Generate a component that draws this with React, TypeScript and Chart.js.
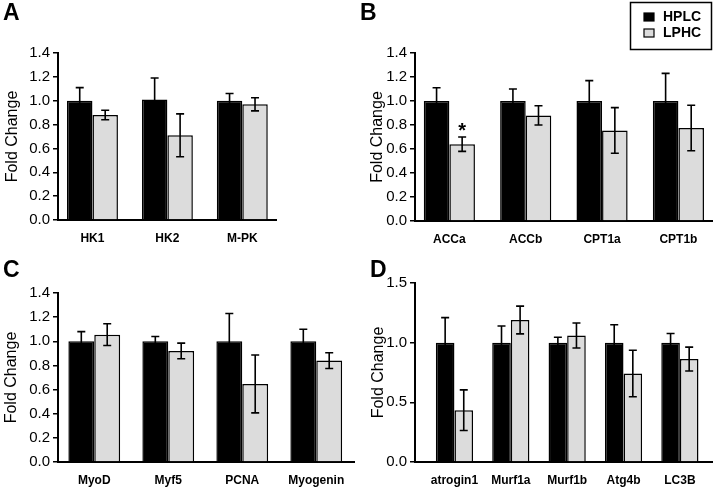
import React, { useEffect, useRef } from "react";
import { Chart, registerables } from "chart.js";

Chart.register(...registerables);

const FONT = "'Liberation Sans', Arial, Helvetica, sans-serif";

const seriesNames = ["HPLC", "LPHC"];
const seriesColors = ["#000000", "#dcdcdc"];
const yTitle = "Fold Change";

// Panel A
const catsA = ["HK1", "HK2", "M-PK"];
const hplcA = [1.0, 1.01, 1.0];
const hplcErrA = [0.11, 0.18, 0.06];
const lphcA = [0.88, 0.71, 0.97];
const lphcErrA = [0.04, 0.18, 0.055];

// Panel B
const catsB = ["ACCa", "ACCb", "CPT1a", "CPT1b"];
const hplcB = [1.0, 1.0, 1.0, 1.0];
const hplcErrB = [0.11, 0.1, 0.17, 0.23];
const lphcB = [0.64, 0.88, 0.755, 0.775];
const lphcErrB = [0.06, 0.08, 0.19, 0.19];
const sigB = ["*", "", "", ""];

// Panel C
const catsC = ["MyoD", "Myf5", "PCNA", "Myogenin"];
const hplcC = [1.0, 1.0, 1.0, 1.0];
const hplcErrC = [0.08, 0.04, 0.23, 0.1];
const lphcC = [1.055, 0.92, 0.647, 0.84];
const lphcErrC = [0.09, 0.065, 0.24, 0.065];

// Panel D
const catsD = ["atrogin1", "Murf1a", "Murf1b", "Atg4b", "LC3B"];
const hplcD = [1.0, 1.0, 1.0, 1.0, 1.0];
const hplcErrD = [0.21, 0.14, 0.045, 0.15, 0.077];
const lphcD = [0.434, 1.19, 1.06, 0.742, 0.863];
const lphcErrD = [0.17, 0.116, 0.105, 0.195, 0.1];

const W = 357;
const H = 245;

type Panel = {
  letter: string;
  letterX: number;
  letterY: number;
  cats: string[];
  hplc: number[];
  hplcErr: number[];
  lphc: number[];
  lphcErr: number[];
  sig?: string[];
  yMax: number;
  yStep: number;
  xMin: number;
  xMax: number;
  catPct: number;
  left: number;
  top: number;
  area: { left: number; right: number; top: number; bottom: number };
  titlePad: number;
  legend?: boolean;
};

const panels: Panel[] = [
  {
    letter: "A", letterX: 3, letterY: 20,
    cats: catsA, hplc: hplcA, hplcErr: hplcErrA, lphc: lphcA, lphcErr: lphcErrA,
    yMax: 1.4, yStep: 0.2, xMin: -0.46, xMax: 2.45, catPct: 0.68,
    left: 0, top: 0, area: { left: 58, right: 276, top: 53, bottom: 220 }, titlePad: 3,
  },
  {
    letter: "B", letterX: 3, letterY: 20,
    cats: catsB, hplc: hplcB, hplcErr: hplcErrB, lphc: lphcB, lphcErr: lphcErrB, sig: sigB,
    yMax: 1.4, yStep: 0.2, xMin: -0.45, xMax: 3.44, catPct: 0.67,
    left: 357, top: 0, area: { left: 58, right: 355, top: 53, bottom: 221 }, titlePad: 11,
    legend: true,
  },
  {
    letter: "C", letterX: 3, letterY: 32,
    cats: catsC, hplc: hplcC, hplcErr: hplcErrC, lphc: lphcC, lphcErr: lphcErrC,
    yMax: 1.4, yStep: 0.2, xMin: -0.49, xMax: 3.51, catPct: 0.7,
    left: 0, top: 245, area: { left: 58, right: 354, top: 48, bottom: 217 }, titlePad: 2,
  },
  {
    letter: "D", letterX: 13, letterY: 32,
    cats: catsD, hplc: hplcD, hplcErr: hplcErrD, lphc: lphcD, lphcErr: lphcErrD,
    yMax: 1.5, yStep: 0.5, xMin: -0.7, xMax: 4.57, catPct: 0.66,
    left: 357, top: 245, area: { left: 58, right: 355, top: 38, bottom: 217 }, titlePad: 12,
  },
];

function PanelChart({ p }: { p: Panel }) {
  const ref = useRef<HTMLCanvasElement | null>(null);

  useEffect(() => {
    const canvas = ref.current;
    if (!canvas) return;
    const vals = [p.hplc, p.lphc];
    const errs = [p.hplcErr, p.lphcErr];

    const overlay = {
      id: "overlay" + p.letter,
      afterDatasetsDraw(chart: any) {
        const ctx = chart.ctx as CanvasRenderingContext2D;
        const ys = chart.scales.y;
        ctx.save();
        ctx.strokeStyle = "#000";
        ctx.fillStyle = "#000";
        ctx.lineWidth = 1.6;
        for (let d = 0; d < 2; d++) {
          const meta = chart.getDatasetMeta(d);
          meta.data.forEach((el: any, i: number) => {
            const x = el.x;
            const v = vals[d][i];
            const e = errs[d][i];
            const top = ys.getPixelForValue(v + e);
            const bot = ys.getPixelForValue(v - e);
            ctx.beginPath();
            ctx.moveTo(x, top);
            ctx.lineTo(x, bot);
            ctx.moveTo(x - 4, top);
            ctx.lineTo(x + 4, top);
            ctx.moveTo(x - 4, bot);
            ctx.lineTo(x + 4, bot);
            ctx.stroke();
            if (d === 1 && p.sig && p.sig[i]) {
              ctx.font = "bold 20px " + FONT;
              ctx.textAlign = "center";
              ctx.textBaseline = "alphabetic";
              ctx.fillText(p.sig[i], x, top);
            }
          });
        }
        ctx.restore();
      },
      afterDraw(chart: any) {
        const ctx = chart.ctx as CanvasRenderingContext2D;
        ctx.save();
        ctx.fillStyle = "#000";
        ctx.font = "bold 23px " + FONT;
        ctx.textAlign = "left";
        ctx.textBaseline = "alphabetic";
        ctx.fillText(p.letter, p.letterX, p.letterY);
        if (p.legend) {
          ctx.lineWidth = 1.5;
          ctx.strokeStyle = "#000";
          ctx.strokeRect(273.5, 2.5, 81, 47);
          ctx.font = "bold 14px " + FONT;
          ctx.textBaseline = "middle";
          seriesNames.forEach((name, k) => {
            const cy = 17 + k * 16;
            ctx.fillStyle = seriesColors[k];
            ctx.fillRect(287, cy - 4, 10, 8);
            ctx.lineWidth = 1.2;
            ctx.strokeRect(287, cy - 4, 10, 8);
            ctx.fillStyle = "#000";
            ctx.fillText(name, 306, cy + 0.5);
          });
        }
        ctx.restore();
      },
    };

    const chart = new Chart(canvas, {
      type: "bar",
      data: {
        datasets: [
          {
            label: seriesNames[0],
            data: p.hplc.map((v, i) => ({ x: i, y: v })),
            backgroundColor: seriesColors[0],
            borderColor: "#000",
            borderWidth: 1.5,
            categoryPercentage: p.catPct,
            barPercentage: 1,
          },
          {
            label: seriesNames[1],
            data: p.lphc.map((v, i) => ({ x: i, y: v })),
            backgroundColor: seriesColors[1],
            borderColor: "#000",
            borderWidth: 1.5,
            categoryPercentage: p.catPct,
            barPercentage: 1,
          },
        ],
      } as any,
      options: {
        animation: false,
        responsive: false,
        devicePixelRatio: 1,
        layout: {
          padding: { left: 0, top: p.area.top, right: W - p.area.right, bottom: 0 },
        },
        plugins: {
          legend: { display: false },
          tooltip: { enabled: false },
          title: { display: false },
        },
        scales: {
          x: {
            type: "linear",
            min: p.xMin,
            max: p.xMax,
            offset: false,
            grid: { display: false },
            border: { display: true, color: "#000", width: 2 },
            ticks: {
              color: "#000",
              font: { family: FONT, size: 12, weight: "bold" },
              padding: 3,
              autoSkip: false,
              maxRotation: 0,
              callback: (v: any) => p.cats[Math.round(Number(v))] ?? "",
            },
            afterBuildTicks: (s: any) => {
              s.ticks = p.cats.map((_, i) => ({ value: i }));
            },
            afterFit: (s: any) => {
              s.height = H - p.area.bottom;
            },
          },
          y: {
            min: 0,
            max: p.yMax,
            grid: {
              display: true,
              drawOnChartArea: false,
              drawTicks: true,
              tickLength: 5,
              color: "#000",
              lineWidth: 1.5,
            },
            border: { display: true, color: "#000", width: 2 },
            ticks: {
              stepSize: p.yStep,
              color: "#000",
              font: { family: FONT, size: 15 },
              padding: 3,
              callback: (v: any) => Number(v).toFixed(1),
            },
            title: {
              display: true,
              text: yTitle,
              color: "#000",
              font: { family: FONT, size: 16 },
              padding: { top: p.titlePad, bottom: 0 },
            },
            afterFit: (s: any) => {
              s.width = p.area.left;
            },
          },
        },
      } as any,
      plugins: [overlay],
    });
    return () => chart.destroy();
  }, [p]);

  return (
    <canvas
      ref={ref}
      width={W}
      height={H}
      style={{ position: "absolute", left: p.left, top: p.top, width: W, height: H }}
    />
  );
}

export default function App() {
  return (
    <div
      style={{
        position: "absolute",
        left: 0,
        top: 0,
        width: 714,
        height: 490,
        background: "#fff",
        overflow: "hidden",
      }}
    >
      {panels.map((p) => (
        <PanelChart key={p.letter} p={p} />
      ))}
    </div>
  );
}
